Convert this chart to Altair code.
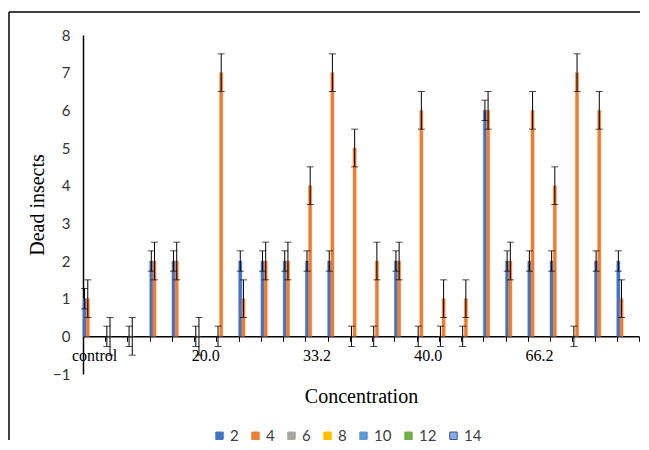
import altair as alt
import pandas as pd

# ---- data ----
categories = list(range(25))
tick_labels = ["control", "", "", "", "", "20.0", "", "", "", "", "33.2", "", "", "", "",
               "40.0", "", "", "", "", "66.2", "", "", "", ""]
series = ["2", "4", "6", "8", "10", "12", "14"]
dead_2 = [1, 0, 0, 2, 2, 0, 0, 2, 2, 2, 2, 2, 0, 0, 2, 0, 0, 0, 6, 2, 2, 2, 0, 2, 2]
dead_4 = [1, 0, 0, 2, 2, 0, 7, 1, 2, 2, 4, 7, 5, 2, 2, 6, 1, 1, 6, 2, 6, 4, 7, 6, 1]
err_2 = [0.27, 0.27, 0.27, 0.27, 0.27, 0.27, 0.27, 0.27, 0.27, 0.27, 0.27, 0.27, 0.27,
         0.27, 0.27, 0.27, 0.27, 0.27, 0.27, 0.27, 0.27, 0.27, 0.27, 0.27, 0.27]
err_4 = [0.5, 0.5, 0.5, 0.5, 0.5, 0.5, 0.5, 0.5, 0.5, 0.5, 0.5, 0.5, 0.5,
         0.5, 0.5, 0.5, 0.5, 0.5, 0.5, 0.5, 0.5, 0.5, 0.5, 0.5, 0.5]
y_ticks = [-1, 0, 1, 2, 3, 4, 5, 6, 7, 8]
fill_colors = ["#4472C4", "#ED7D31", "#A5A5A5", "#FFC000", "#5B9BD5", "#70AD47", "#8FAADC"]
stroke_colors = ["#4472C4", "#ED7D31", "#A5A5A5", "#FFC000", "#5B9BD5", "#70AD47", "#2F5597"]

rows = []
for i in categories:
    rows.append({"cat": i, "series": "2", "value": dead_2[i], "err": err_2[i]})
    rows.append({"cat": i, "series": "4", "value": dead_4[i], "err": err_4[i]})
df = pd.DataFrame(rows)
df["lo"] = df["value"] - df["err"]
df["hi"] = df["value"] + df["err"]

W, H = 556, 339
label_expr = "[" + ",".join("'" + t + "'" for t in tick_labels) + "][datum.value]"

x_axis = alt.Axis(
    labelExpr=label_expr, labelAngle=0, tickBand="extent", offset=-H / 9,
    domainColor="black", domainWidth=1.5, tickColor="black", tickSize=5,
    labelFont="Liberation Serif", labelFontSize=16, labelColor="black",
    labelPadding=6, titleFont="Liberation Serif", titleFontSize=20,
    titleFontWeight="normal", titleColor="black", titlePadding=23,
)
x_scale = alt.Scale(domain=categories, paddingInner=0, paddingOuter=0)
xo_enc = alt.XOffset("series:N", scale=alt.Scale(domain=series, paddingInner=0, paddingOuter=0))
y_scale = alt.Scale(domain=[-1, 8], nice=False, zero=False)
y_axis = alt.Axis(
    values=y_ticks, grid=False, ticks=False, tickSize=0, labelOverlap=False,
    labelSeparation=0, domainColor="black", domainWidth=1.5, labelFont="Lato",
    labelFontSize=15, labelColor="#333333", labelPadding=13, titleFont="Liberation Serif",
    titleFontSize=20, titleFontWeight="normal", titleColor="black", titlePadding=5,
)


def xe():
    return alt.X("cat:O", title="Concentration", scale=x_scale, axis=x_axis)


def ye(field):
    return alt.Y(field, title="Dead insects", scale=y_scale, axis=y_axis)


legend = alt.Legend(
    title=None, orient="none", direction="horizontal", legendX=129, legendY=393,
    symbolType="square", symbolSize=55, symbolStrokeWidth=1, labelFont="Lato",
    labelFontSize=15, labelColor="#404040", columnPadding=9, labelOffset=3, padding=0,
)

bars = alt.Chart(df).mark_bar(strokeWidth=0.4).encode(
    x=xe(),
    xOffset=xo_enc,
    y=ye("value:Q"),
    color=alt.Color("series:N", scale=alt.Scale(domain=series, range=fill_colors), legend=legend),
    stroke=alt.Stroke("series:N", scale=alt.Scale(domain=series, range=stroke_colors), legend=legend),
)

err_lines = alt.Chart(df).mark_rule(color="black", strokeWidth=1).encode(
    x=xe(), xOffset=xo_enc, y=ye("lo:Q"), y2="hi:Q",
)
cap_hi = alt.Chart(df).mark_tick(color="black", thickness=1, size=7).encode(
    x=xe(), xOffset=xo_enc, y=ye("hi:Q"),
)
cap_lo = alt.Chart(df).mark_tick(color="black", thickness=1, size=7).encode(
    x=xe(), xOffset=xo_enc, y=ye("lo:Q"),
)

frame_df = pd.DataFrame({"k": [0]})
frame_top = alt.Chart(frame_df).mark_rule(color="black", strokeWidth=1.5).encode(
    x=alt.value(-74), x2=alt.value(W + 1), y=alt.value(-23)
)
frame_left = alt.Chart(frame_df).mark_rule(color="black", strokeWidth=1.5).encode(
    x=alt.value(-74), y=alt.value(-23), y2=alt.value(405)
)

chart = alt.layer(bars, err_lines, cap_hi, cap_lo, frame_top, frame_left).properties(
    width=W, height=H, padding={"left": 0, "top": 3, "right": 0, "bottom": 0}
).configure_view(stroke=None)

chart.save("out.html", embed_options={"renderer": "svg", "actions": False})
